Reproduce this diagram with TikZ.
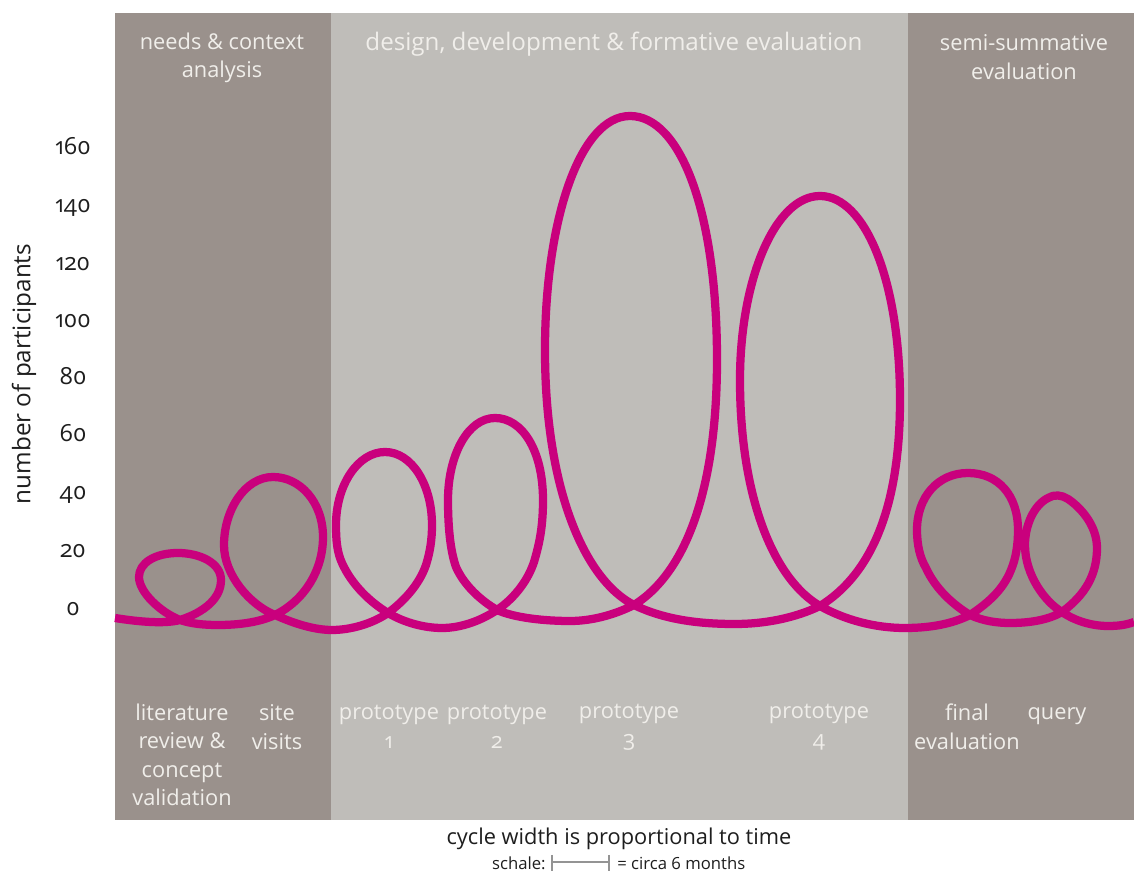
\documentclass[tikz,border=0pt]{standalone}
\usepackage{fontspec}
\setmainfont[Numbers=OldStyle]{Open Sans}
\definecolor{darkband}{HTML}{9A918C}
\definecolor{lightband}{HTML}{BFBDB9}
\definecolor{loopc}{HTML}{C9007D}
\definecolor{inkc}{HTML}{1E1E1E}
\definecolor{barc}{HTML}{949494}
\definecolor{headc}{HTML}{F0EEEA}
\tikzset{
  x=0.02cm,y=-0.02cm,
  band/.style={fill=#1,draw=none},
  head/.style={text=headc,font=\fontsize{12.4}{16.2}\selectfont,align=center,inner sep=0pt,anchor=center},
  axisnum/.style={text=inkc,font=\fontsize{13.4}{14}\selectfont,inner sep=0pt,anchor=center,text height=6pt,text depth=2pt},
  smalltext/.style={text=inkc,inner sep=0pt,font=\fontsize{9.5}{11}\selectfont},
  bar/.style={draw=barc,line width=1.2pt},
  tick/.style={draw=barc,line width=1.7pt}
}
\begin{document}
\begin{tikzpicture}
\useasboundingbox (0,0) rectangle (1134,871);
\fill[white] (0,0) rectangle (1134,871);
\fill[band=darkband] (115,13) rectangle (331,820);
\fill[band=lightband] (331,13) rectangle (908,820);
\fill[band=darkband] (908,13) rectangle (1134,820);
\node[head] (h1) at (222,58) {needs \& context\\analysis};
\node[head,font=\fontsize{13.75}{16}\selectfont] (h2) at (614,44) {design, development \& formative evaluation};
\node[head] (h3) at (1024,57) {semi-summative\\evaluation};
\foreach \v/\yy in {160/150.5,140/208.5,120/266.5,100/323.5,80/380.5,60/437.5,40/495.5,20/553.5,0/611.5}
  \node[axisnum] (n\v) at (73,\yy) {\v};
\node[axisnum,rotate=90,font=\fontsize{13.8}{14}\selectfont,text height=,text depth=] (yl) at (24,374) {number of participants};
\draw[loopc,line width=4.7pt,line join=round]
 (115,618) .. controls (140,622) and (165,624) .. (180,620)
 .. controls (205,612) and (221,598) .. (221,580)
 .. controls (221,563) and (200,553) .. (178,553)
 .. controls (155,553) and (139,563) .. (139,577)
 .. controls (139,592) and (160,612) .. (180,620)
 .. controls (192,624) and (205,625) .. (218,625)
 .. controls (240,625) and (260,622) .. (275,615)
 .. controls (305,600) and (323,570) .. (323,537)
 .. controls (323,502) and (300,477) .. (273,477)
 .. controls (245,477) and (224,510) .. (224,545)
 .. controls (224,575) and (250,605) .. (275,615)
 .. controls (295,624) and (315,630) .. (332,630)
 .. controls (350,630) and (372,624) .. (388,613)
 .. controls (404,601) and (419,585) .. (426,565)
 .. controls (430,552) and (432,540) .. (432,525)
 .. controls (432,485) and (412,452) .. (385,452)
 .. controls (358,452) and (336,485) .. (336,525)
 .. controls (336,540) and (337,552) .. (342,563)
 .. controls (352,585) and (370,602) .. (388,613)
 .. controls (405,623) and (425,628) .. (442,628)
 .. controls (462,628) and (482,620) .. (497,610)
 .. controls (512,600) and (527,583) .. (534,562)
 .. controls (540,542) and (543,525) .. (543,500)
 .. controls (543,450) and (522,418) .. (495,418)
 .. controls (468,418) and (448,455) .. (448,500)
 .. controls (448,525) and (450,550) .. (456,567)
 .. controls (464,585) and (480,600) .. (497,610)
 .. controls (515,618) and (545,621) .. (570,621)
 .. controls (595,621) and (618,613) .. (634,605)
 .. controls (690,570) and (717,480) .. (717,360)
 .. controls (717,210) and (680,116) .. (630,116)
 .. controls (580,116) and (545,220) .. (545,350)
 .. controls (545,490) and (585,580) .. (634,605)
 .. controls (665,620) and (700,624) .. (735,624)
 .. controls (765,624) and (795,618) .. (820,606)
 .. controls (870,575) and (900,510) .. (900,400)
 .. controls (900,280) and (865,196) .. (820,196)
 .. controls (775,196) and (740,280) .. (740,380)
 .. controls (740,500) and (775,580) .. (820,606)
 .. controls (845,620) and (875,628) .. (905,628)
 .. controls (930,628) and (952,624) .. (970,615)
 .. controls (988,603) and (1003,590) .. (1011,570)
 .. controls (1016,558) and (1018,545) .. (1018,530)
 .. controls (1018,495) and (998,473) .. (968,473)
 .. controls (938,473) and (917,497) .. (917,530)
 .. controls (917,545) and (920,558) .. (926,568)
 .. controls (935,588) and (952,604) .. (970,615)
 .. controls (983,621) and (997,623) .. (1010,623)
 .. controls (1030,623) and (1048,620) .. (1062,612)
 .. controls (1085,595) and (1097,575) .. (1097,548)
 .. controls (1097,525) and (1080,507) .. (1068,499)
 .. controls (1062,495) and (1054,494) .. (1048,498)
 .. controls (1034,505) and (1025,525) .. (1025,545)
 .. controls (1025,575) and (1045,602) .. (1062,612)
 .. controls (1075,621) and (1092,626) .. (1108,626)
 .. controls (1118,626) and (1126,625) .. (1134,622);
\node[head] (a) at (182,755) {literature\\review \&\\concept\\validation};
\node[head] (b) at (277,727) {site\\visits};
\node[head] (c) at (389,727) {prototype\\1};
\node[head] (d) at (497,727) {prototype\\2};
\node[head] (e) at (629,727) {prototype\\3};
\node[head] (f) at (819,727) {prototype\\4};
\node[head] (g) at (967,727) {final\\evaluation};
\node[head] (i) at (1057,716) {query};
\node[text=inkc,inner sep=0pt,font=\fontsize{12.4}{14}\selectfont] (t1) at (619,839) {cycle width is proportional to time};
\node[smalltext,anchor=east] (t2) at (546,863) {schale:};
\node[smalltext,anchor=west] (t3) at (617,863) {= circa 6 months};
\coordinate (sa) at (552,862);
\coordinate (sb) at (609,862);
\draw[bar] (sa) -- (sb);
\draw[tick] (552,855) -- (552,871);
\draw[tick] (609,855) -- (609,871);
\end{tikzpicture}
\end{document}
